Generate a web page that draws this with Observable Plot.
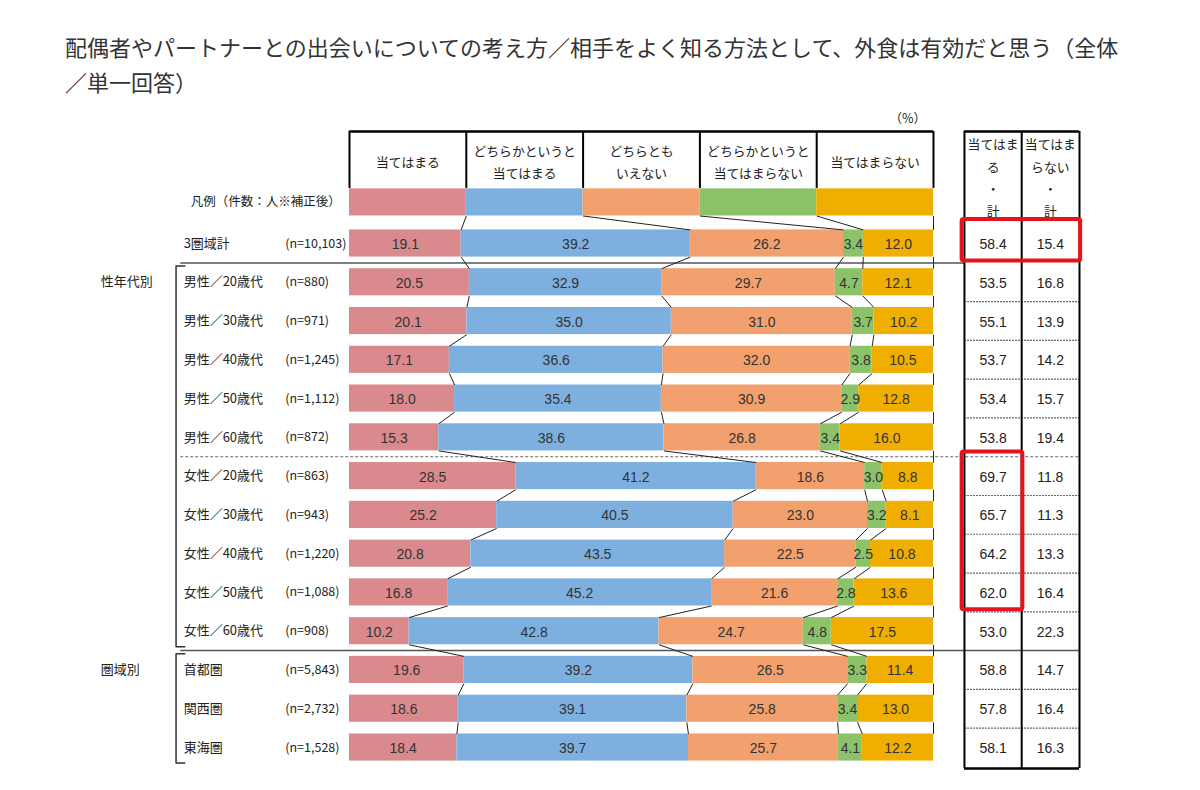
<!DOCTYPE html>
<html><head><meta charset="utf-8">
<script src="https://cdn.jsdelivr.net/npm/d3@7"></script>
<script src="https://cdn.jsdelivr.net/npm/@observablehq/plot@0.6"></script>
<style>
body{margin:0;background:#fff;font-family:"Noto Sans CJK JP",sans-serif;}
#title{height:100px;box-sizing:border-box;padding:29px 0 0 65px;font-size:22px;line-height:35px;color:#333;white-space:nowrap;}
#chart svg{display:block}
</style></head><body>
<div id="title">配偶者やパートナーとの出会いについての考え方／相手をよく知る方法として、外食は有効だと思う（全体<br>／単一回答）</div>
<div id="chart"></div>
<script>
// ---------- data ----------
const categories = ["当てはまる","どちらかというと当てはまる","どちらともいえない","どちらかというと当てはまらない","当てはまらない"];
const headerLabels = ["当てはまる","どちらかというと\n当てはまる","どちらとも\nいえない","どちらかというと\n当てはまらない","当てはまらない"];
const colors = ["#DA8A8C","#7DB0DE","#F1A06E","#8CC36A","#F0AE00"];
const rowLabels = ["3圏域計","男性／20歳代","男性／30歳代","男性／40歳代","男性／50歳代","男性／60歳代",
  "女性／20歳代","女性／30歳代","女性／40歳代","女性／50歳代","女性／60歳代","首都圏","関西圏","東海圏"];
const sampleSizes = ["10,103","880","971","1,245","1,112","872","863","943","1,220","1,088","908","5,843","2,732","1,528"];
const atehamaru      = [19.1,20.5,20.1,17.1,18.0,15.3,28.5,25.2,20.8,16.8,10.2,19.6,18.6,18.4];
const yaya_atehamaru = [39.2,32.9,35.0,36.6,35.4,38.6,41.2,40.5,43.5,45.2,42.8,39.2,39.1,39.7];
const dochiratomo    = [26.2,29.7,31.0,32.0,30.9,26.8,18.6,23.0,22.5,21.6,24.7,26.5,25.8,25.7];
const yaya_nai       = [3.4,4.7,3.7,3.8,2.9,3.4,3.0,3.2,2.5,2.8,4.8,3.3,3.4,4.1];
const atehamaranai   = [12.0,12.1,10.2,10.5,12.8,16.0,8.8,8.1,10.8,13.6,17.5,11.4,13.0,12.2];
const topTotals      = [58.4,53.5,55.1,53.7,53.4,53.8,69.7,65.7,64.2,62.0,53.0,58.8,57.8,58.1];
const bottomTotals   = [15.4,16.8,13.9,14.2,15.7,19.4,11.8,11.3,13.3,16.4,22.3,14.7,16.4,16.3];
const totalHeaders = ["当てはま\nる\n・\n計","当てはま\nらない\n・\n計"];
const groups = [{label:"性年代別", from:1, to:10},{label:"圏域別", from:11, to:13}];
const highlights = [{from:0, to:0, col1:0, col2:1},{from:6, to:9, col1:0, col2:0}];
const legendTitle = "凡例（件数：人※補正後）";
const unitLabel = "（%）";

// ---------- layout (x in % units, y in row units) ----------
const X_GROUP = -42.6, X_LABEL = -28.4, X_N = -11.0, X_LEG = -1.5, X_BR = -29.7, X_BR_END = -28.2, X_LINE0 = -28.9;
const TABLE_X = [105.3, 115.1, 125.0];
const TABLE_TEXT_X = [110.2, 120.0];
const Y_HEAD_TOP = -2.89, Y_HEAD_BOT = -1.42, Y_LEG = -1.06, HALF = 0.35, Y_TABLE_BOT = 13.54, Y_TABLE_HEAD = -1.75, Y_UNIT = -3.22;
const JP = "'Noto Sans CJK JP', sans-serif";
const NUM = "'Liberation Sans', Arial, sans-serif";

// ---------- derived ----------
const series = [atehamaru, yaya_atehamaru, dochiratomo, yaya_nai, atehamaranai];
const rows = rowLabels.map((label, i) => ({row: i, label, n: `(n=${sampleSizes[i]})`, top: topTotals[i].toFixed(1), bottom: bottomTotals[i].toFixed(1)}));
const segs = [];
const bounds = rowLabels.map((_, i) => {
  const vals = series.map(s => s[i]);
  const tot = d3.sum(vals);
  let c = 0;
  return vals.map((v, k) => {
    const x1 = c / tot * 100; c += v; const x2 = c / tot * 100;
    segs.push({row: i, cat: categories[k], v, x1, x2});
    return x2;
  });
});
const legendCells = categories.map((cat, k) => ({cat, x1: k * 20, x2: (k + 1) * 20, label: headerLabels[k]}));
const levels = [{y: Y_LEG, b: legendCells.map(d => d.x2)}, ...bounds.map((b, i) => ({y: i, b}))];
const links = [];
for (let j = 0; j < levels.length - 1; j++)
  for (let k = 0; k < categories.length; k++)
    links.push({x1: levels[j].b[k], y1: levels[j].y + HALF, x2: levels[j + 1].b[k], y2: levels[j + 1].y - HALF});
const dotted = d3.range(0, rowLabels.length - 1).filter(i => ![0, 5, 10].includes(i)).map(i => i + 0.5);
const brackets = groups.flatMap(g => [
  {g: g.label, x: X_BR_END, y: g.from - 0.42}, {g: g.label, x: X_BR, y: g.from - 0.42},
  {g: g.label, x: X_BR, y: g.to + 0.4}, {g: g.label, x: X_BR_END, y: g.to + 0.4}]);
const boxes = highlights.map(h => ({x1: TABLE_X[h.col1] - 0.4, x2: TABLE_X[h.col2 + 1] + 0.2, y1: h.from - 0.62, y2: h.to + 0.45}));

const chart = Plot.plot({
  width: 1200, height: 690,
  marginLeft: 0, marginRight: 0, marginTop: 0, marginBottom: 0,
  x: {domain: [0, 100], range: [349, 933], axis: null},
  y: {domain: [0, 13], range: [143, 647], axis: null},
  color: {domain: categories, range: colors},
  style: {background: "white", color: "#222", overflow: "visible"},
  marks: [
    // header table
    Plot.ruleX(d3.range(0, 101, 20), {x: d => d, y1: Y_HEAD_TOP, y2: Y_HEAD_BOT, stroke: "#000", strokeWidth: 2}),
    Plot.ruleY([Y_HEAD_TOP], {x1: 0, x2: 100, stroke: "#000", strokeWidth: 2.5}),
    Plot.text(legendCells, {x: d => (d.x1 + d.x2) / 2, y: (Y_HEAD_TOP + Y_HEAD_BOT) / 2, text: "label", fontSize: 12.8, lineHeight: 1.75, fontFamily: JP, fill: "#222"}),
    Plot.text([unitLabel], {x: 95.6, y: Y_UNIT, text: d => d, fontSize: 12.5, fontFamily: JP, fill: "#222"}),
    // legend row
    Plot.rect(legendCells, {x1: "x1", x2: "x2", y1: Y_LEG - HALF, y2: Y_LEG + HALF, fill: "cat"}),
    Plot.text([legendTitle], {x: X_LEG, y: Y_LEG, text: d => d, textAnchor: "end", fontSize: 12.5, fontFamily: JP, fill: "#222"}),
    // separators
    Plot.ruleY([0.5], {x1: X_LINE0, x2: TABLE_X[0], stroke: "#555", strokeWidth: 1.5}),
    Plot.ruleY([10.5], {x1: X_LINE0, x2: TABLE_X[2], stroke: "#555", strokeWidth: 1.5}),
    Plot.ruleY([5.5], {x1: X_LINE0, x2: TABLE_X[2], stroke: "#666", strokeWidth: 1.2, strokeDasharray: "3,2"}),
    Plot.ruleY(dotted, {y: d => d, x1: TABLE_X[0], x2: TABLE_X[2], stroke: "#666", strokeWidth: 1.2, strokeDasharray: "2,1"}),
    // bars
    Plot.rect(segs, {x1: "x1", x2: "x2", y1: d => d.row - HALF, y2: d => d.row + HALF, fill: "cat"}),
    Plot.link(links, {x1: "x1", y1: "y1", x2: "x2", y2: "y2", stroke: "#222", strokeWidth: 1}),
    Plot.text(segs, {x: d => (d.x1 + d.x2) / 2, y: "row", dy: 1, text: d => d.v.toFixed(1), fontSize: 14, fontFamily: NUM, fill: "#333"}),
    // row labels
    Plot.text(rows, {x: X_LABEL, y: "row", text: "label", textAnchor: "start", fontSize: 13, fontFamily: JP, fill: "#222"}),
    Plot.text(rows, {x: X_N, y: "row", text: "n", textAnchor: "start", fontSize: 12.5, fontFamily: JP, fill: "#222"}),
    Plot.text(groups, {x: X_GROUP, y: "from", text: "label", textAnchor: "start", fontSize: 13, fontFamily: JP, fill: "#222"}),
    Plot.line(brackets, {x: "x", y: "y", z: "g", stroke: "#333", strokeWidth: 1.5}),
    // totals table
    Plot.ruleX(TABLE_X, {x: d => d, y1: Y_HEAD_TOP, y2: Y_TABLE_BOT, stroke: "#000", strokeWidth: 2}),
    Plot.ruleY([Y_HEAD_TOP, Y_TABLE_BOT], {y: d => d, x1: TABLE_X[0], x2: TABLE_X[2], stroke: "#000", strokeWidth: 2.5}),
    Plot.text(totalHeaders, {x: (d, i) => TABLE_TEXT_X[i], y: Y_TABLE_HEAD, text: d => d, fontSize: 12.8, lineHeight: 1.75, fontFamily: JP, fill: "#222"}),
    Plot.text(rows, {x: TABLE_TEXT_X[0], y: "row", dy: 1, text: "top", fontSize: 14, fontFamily: NUM, fill: "#222"}),
    Plot.text(rows, {x: TABLE_TEXT_X[1], y: "row", dy: 1, text: "bottom", fontSize: 14, fontFamily: NUM, fill: "#222"}),
    // highlight boxes
    Plot.rect(boxes, {x1: "x1", x2: "x2", y1: "y1", y2: "y2", fill: "none", stroke: "#E3141C", strokeWidth: 4, rx: 2})
  ]
});
document.getElementById("chart").append(chart);
</script></body></html>
